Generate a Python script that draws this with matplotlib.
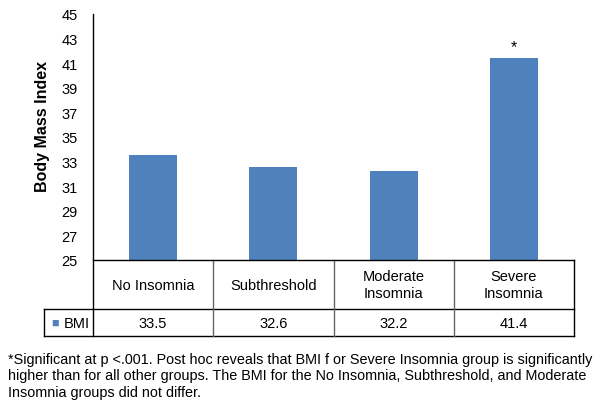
import matplotlib
matplotlib.use("Agg")
import matplotlib.pyplot as plt
import matplotlib.transforms as mtransforms

plt.rcParams['font.family'] = ['Liberation Sans', 'DejaVu Sans']

# data
categories = ["No Insomnia", "Subthreshold", "Moderate\nInsomnia", "Severe\nInsomnia"]
bmi = [33.5, 32.6, 32.2, 41.4]
value_labels = ["33.5", "32.6", "32.2", "41.4"]
series_name = "BMI"
yticks = list(range(25, 46, 2))
star_index = 3
footnote = ("*Significant at p <.001. Post hoc reveals that BMI f or Severe Insomnia group is significantly\n"
            "higher than for all other groups. The BMI for the No Insomnia, Subthreshold, and Moderate\n"
            "Insomnia groups did not differ.")

bar_color = "#4F81BD"
W, H = 604, 410

fig = plt.figure(figsize=(W / 100, H / 100), dpi=100)
ax = fig.add_axes([93 / W, 1 - 261 / H, (574 - 93) / W, (261 - 15) / H])

x = list(range(len(bmi)))
ax.bar(x, [v - 25 for v in bmi], bottom=25, width=0.4, color=bar_color, zorder=2)
ax.set_xlim(-0.5, len(bmi) - 0.5)
ax.set_ylim(25, 45)
ax.set_yticks(yticks)
ax.tick_params(axis='y', length=0, pad=11, labelsize=10.5)
ax.set_xticks([])
for s in ['top', 'right']:
    ax.spines[s].set_visible(False)
ax.spines['left'].set_visible(False)
ax.spines['bottom'].set_linewidth(1.0)
ax.set_ylabel("Body Mass Index", fontsize=11.5, fontweight='bold')
ax.yaxis.set_label_coords(-0.089, 0.545)

ax.text(star_index, bmi[star_index] + 0.3, "*", ha='center', va='bottom', fontsize=11.5)

# data table under the axes
trans = mtransforms.blended_transform_factory(ax.transData, ax.transAxes)
def ay(py):
    return (261 - py) / 246.0

xl = -0.5 - 49 / 481 * 4  # left edge of row-label cell
y_top, y_mid, y_bot = ay(261), ay(310), ay(337)
n = len(bmi)
line_kw = dict(transform=trans, clip_on=False, color='black', lw=1.0)
# y axis line extends through the table
ax.plot([-0.5, -0.5], [1.0, y_bot], **line_kw)
ax.plot([n - 0.5, n - 0.5], [y_top, y_bot], **line_kw)
ax.plot([xl, n - 0.5], [y_mid, y_mid], **line_kw)
ax.plot([xl, n - 0.5], [y_bot, y_bot], **line_kw)
ax.plot([xl, xl], [y_mid, y_bot], **line_kw)
for i in range(1, n):
    ax.plot([i - 0.5, i - 0.5], [y_top, y_bot], transform=trans, clip_on=False,
            color='#666666', lw=1.0)

for i, (c, v) in enumerate(zip(categories, value_labels)):
    ax.text(i, (y_top + y_mid) / 2, c, transform=trans, ha='center', va='center',
            fontsize=10.5, linespacing=1.3)
    ax.text(i, (y_mid + y_bot) / 2, v, transform=trans, ha='center', va='center',
            fontsize=10.5)

xc = (xl - 0.5) / 2
ax.text(xc + 0.07, (y_mid + y_bot) / 2, series_name, transform=trans, ha='center',
        va='center', fontsize=10.5)
ax.text(xl + 0.06, (y_mid + y_bot) / 2, "\u25A0", transform=trans, ha='left',
        va='center', fontsize=9, color=bar_color)

fig.text(8 / W, 1 - 353 / H, footnote, ha='left', va='top', fontsize=10.35,
         linespacing=1.22)

fig.savefig("out.png", dpi=100)
